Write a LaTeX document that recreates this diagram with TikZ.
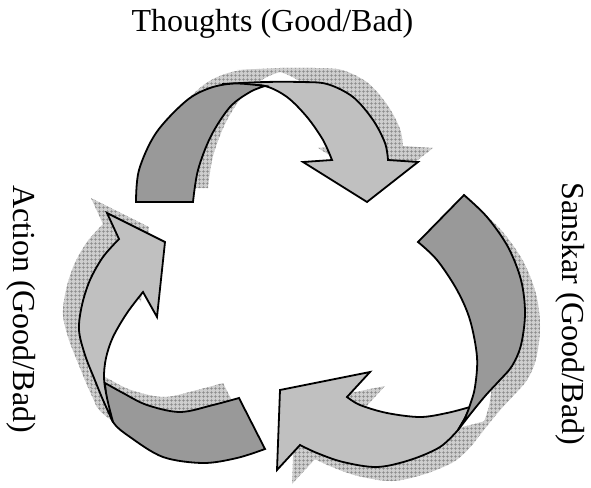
\documentclass[tikz,border=0pt]{standalone}
\usepackage{fontspec}
\setmainfont{Liberation Serif}
\usetikzlibrary{patterns.meta}
\definecolor{bandD}{RGB}{153,153,153}
\definecolor{bandL}{RGB}{192,192,192}
\definecolor{shBase}{RGB}{206,206,206}
\definecolor{shLine}{RGB}{135,135,135}
% top arrow
\def\TopLight{plot[smooth,tension=0.55] coordinates {(222,84) (265,82) (300,82) (327,84) (353,97) (373,120) (385,143) (388,160)} -- (418,162) -- (367,202) -- (303,162) -- (332,160) -- plot[smooth,tension=0.55] coordinates {(332,160) (323,140) (307,117) (287,97) (265,86) (240,85) (222,84)} -- cycle}
\def\TopDark{plot[smooth,tension=0.55] coordinates {(136,202) (139,170) (156,133) (186,101) (210,88) (235,83.5) (265,86)} -- plot[smooth,tension=0.55] coordinates {(265,86) (250,92) (230,107) (211,136) (198,170) (193,202)} -- cycle}
% left arrow
\def\LeftDark{plot[smooth,tension=0.55] coordinates {(105,383) (123,393) (147,405) (180,412) (213,405) (239,398)} -- (265,449) -- plot[smooth,tension=0.55] coordinates {(265,449) (237,458) (203,463) (163,457) (130,437) (113,422) (107,400) (105,383)} -- cycle}
\def\LeftLight{(107,213) -- (165,242) -- (157,317) -- (143,292) -- plot[smooth,tension=0.55] coordinates {(143,292) (127,313) (113,337) (106,358) (104,378) (107,398) (113,422)} -- plot[smooth,tension=0.55] coordinates {(113,422) (103,400) (94,378) (85,355) (79,330) (82,305) (90,280) (103,257) (119,239)} -- cycle}
% right / bottom arrow
\def\RightLight{plot[smooth,tension=0.55] coordinates {(470,407) (447,413) (420,417) (387,413) (360,405) (347,397)} -- (370,372) -- (280,390) -- (277,470) -- (300,445) -- plot[smooth,tension=0.55] coordinates {(300,445) (317,453) (343,462) (377,467) (410,460) (440,447) (458,430)} -- (465,418) -- cycle}
\def\RightDark{(418,242) -- (464,195) -- plot[smooth,tension=0.55] coordinates {(464,195) (487,217) (508,247) (521,280) (525,313) (521,345) (512,366) (499,381) (486,395) (472,412) (458,430)} -- plot[smooth,tension=0.55] coordinates {(458,430) (465,418) (470,405) (475,387) (477,357) (470,320) (457,290) (437,260) (418,242)} -- cycle}
\begin{document}
\begin{tikzpicture}[x=1pt,y=-1pt,
  shadowpart/.style={preaction={fill=shBase},pattern={Hatch[distance=4pt,angle=0,line width=0.6pt]},pattern color=shLine},
  darkpart/.style={fill=bandD,draw=black,line width=1.8pt},
  lightpart/.style={fill=bandL,draw=black,line width=1.8pt},
  capt/.style={font=\fontsize{32}{38}\selectfont,inner sep=0pt,anchor=base}]
\useasboundingbox (0,0) rectangle (591,487);
% shadows
\begin{scope}[shift={(15,-14)}]
  \path[shadowpart] \TopLight;
  \path[shadowpart] \TopDark;
\end{scope}
\begin{scope}[shift={(-16,-15)}]
  \path[shadowpart] \LeftLight;
  \path[shadowpart] \LeftDark;
\end{scope}
\begin{scope}[shift={(15,14)}]
  \path[shadowpart] \RightLight;
  \path[shadowpart] \RightDark;
\end{scope}
% arrows
\path[lightpart] \TopLight;
\path[darkpart] \TopDark;
\path[darkpart] \LeftDark;
\path[lightpart] \LeftLight;
\path[lightpart] \RightLight;
\path[darkpart] \RightDark;
% labels
\node[capt] (thoughts) at (272.5,32) {Thoughts (Good/Bad)};
\node[capt,rotate=-90] (action) at (13,309) {Action (Good/Bad)};
\node[capt,rotate=-90] (sanskar) at (562,314) {Sanskar (Good/Bad)};
\end{tikzpicture}
\end{document}
